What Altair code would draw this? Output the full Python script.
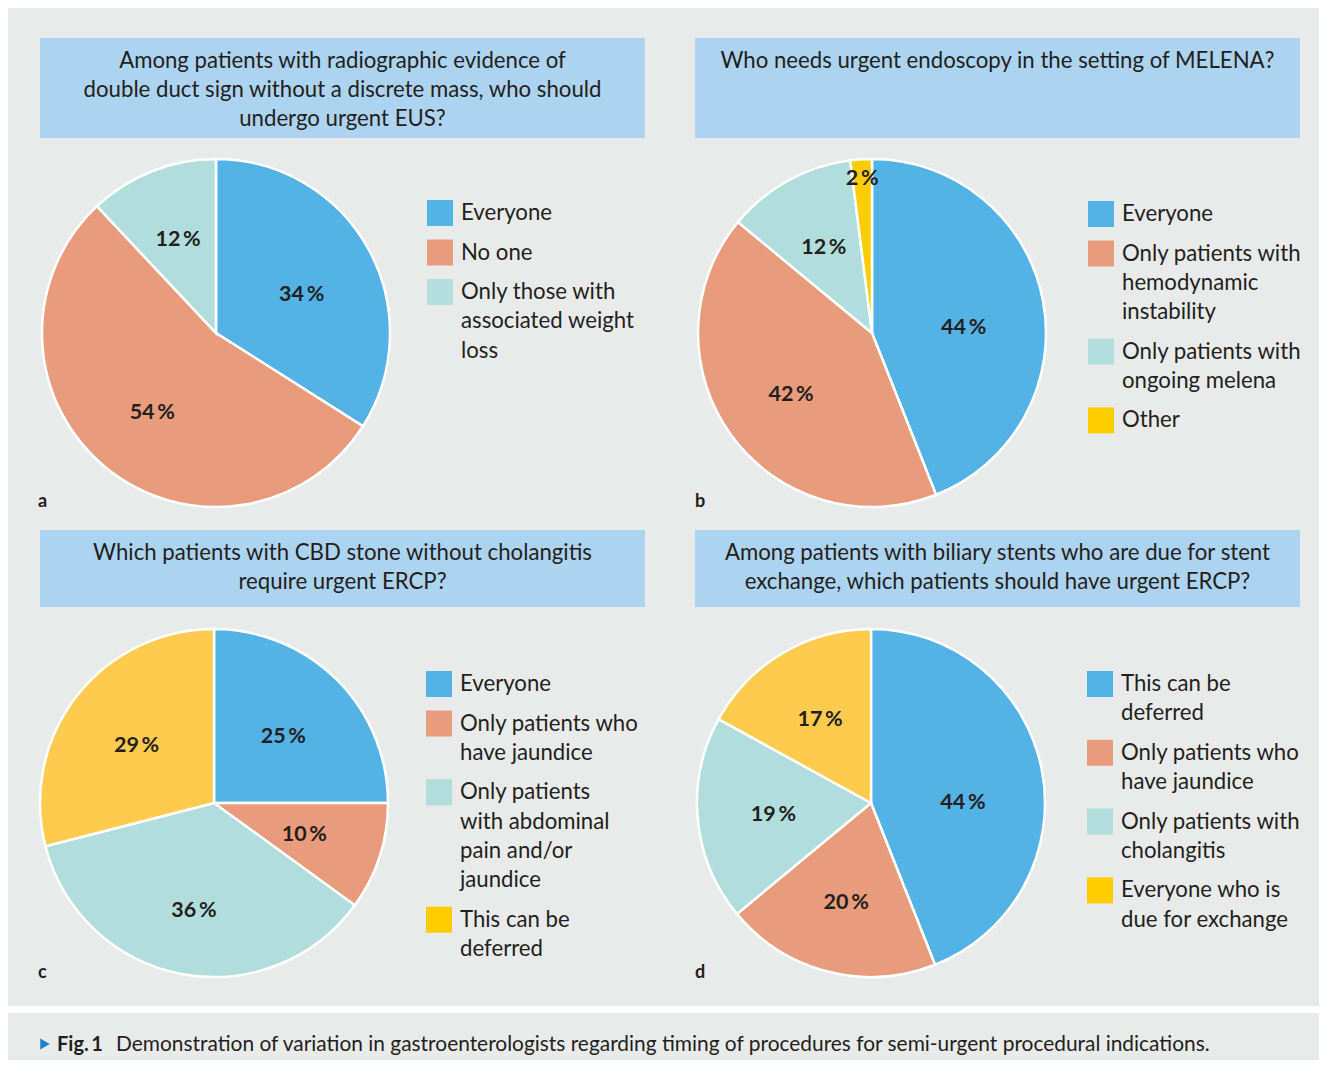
import math
import altair as alt
import pandas as pd

# ---------------- data ----------------
a_title = ["Among patients with radiographic evidence of",
           "double duct sign without a discrete mass, who should",
           "undergo urgent EUS?"]
a_cats = ["Everyone", "No one", "Only those with associated weight loss"]
a_vals = [34, 54, 12]
a_legend = [["Everyone"], ["No one"], ["Only those with", "associated weight", "loss"]]

b_title = ["Who needs urgent endoscopy in the setting of MELENA?"]
b_cats = ["Everyone", "Only patients with hemodynamic instability",
          "Only patients with ongoing melena", "Other"]
b_vals = [44, 42, 12, 2]
b_legend = [["Everyone"], ["Only patients with", "hemodynamic", "instability"],
            ["Only patients with", "ongoing melena"], ["Other"]]

c_title = ["Which patients with CBD stone without cholangitis",
           "require urgent ERCP?"]
c_cats = ["Everyone", "Only patients who have jaundice",
          "Only patients with abdominal pain and/or jaundice", "This can be deferred"]
c_vals = [25, 10, 36, 29]
c_legend = [["Everyone"], ["Only patients who", "have jaundice"],
            ["Only patients", "with abdominal", "pain and/or", "jaundice"],
            ["This can be", "deferred"]]

d_title = ["Among patients with biliary stents who are due for stent",
           "exchange, which patients should have urgent ERCP?"]
d_cats = ["This can be deferred", "Only patients who have jaundice",
          "Only patients with cholangitis", "Everyone who is due for exchange"]
d_vals = [44, 20, 19, 17]
d_legend = [["This can be", "deferred"], ["Only patients who", "have jaundice"],
            ["Only patients with", "cholangitis"], ["Everyone who is", "due for exchange"]]

caption_fig = "Fig.\u20091"
caption_text = ("Demonstration of variation in gastroenterologists regarding timing of "
                "procedures for semi-urgent procedural indications.")

# ---------------- styles / layout ----------------
FONT = "Lato"
BG = "#e9ebea"
BOX = "#acd4f0"
TXT = "#231f20"
BLUE = "#53b3e6"
ORANGE = "#e99c7b"
TEAL = "#b1dedd"
YELLOW = "#ffcc00"
YELLOW_SOFT = "#fecb4e"
R = 174
LH = 29.3
STEP = 39.5
FS = 22.2

dummy = alt.Data(values=[{}])
theta_scale = alt.Scale(domain=[0, 100], range=[0, 2 * math.pi])


def panel(title, cats, vals, legend, pie_cols, leg_cols, label_r, label_nudge, letter,
          box, center, leg_x, leg_y0, letter_pos):
    layers = []
    x1, y1, x2, y2 = box
    layers.append(alt.Chart(dummy).mark_rect(color=BOX).encode(
        x=alt.value(x1), x2=alt.value(x2), y=alt.value(y1), y2=alt.value(y2)))
    layers.append(alt.Chart(dummy).mark_text(
        font=FONT, fontSize=FS, color=TXT, align="center", baseline="alphabetic",
        lineBreak="\n", lineHeight=29).encode(
        x=alt.value((x1 + x2) / 2), y=alt.value(y1 + 30),
        text=alt.value("\n".join(title))))

    df = pd.DataFrame({
        "cat": cats, "val": vals, "idx": list(range(len(cats))),
        "fill": pie_cols, "lr": label_r, "nudge": label_nudge,
        "lab": [f"{v}\u2009%" for v in vals],
    })
    cx, cy = center
    base = alt.Chart(df).transform_window(
        cum="sum(val)", sort=[alt.SortField("idx")]
    ).transform_calculate(
        start="datum.cum - datum.val",
        mid="datum.cum - datum.val / 2 + datum.nudge",
    )
    layers.append(base.mark_arc(outerRadius=R, stroke="white", strokeWidth=2.5).encode(
        theta=alt.Theta("start:Q", scale=theta_scale, stack=None),
        theta2="cum:Q",
        color=alt.Color("fill:N", scale=None),
        x=alt.value(cx), y=alt.value(cy)))
    layers.append(base.mark_text(font=FONT, fontSize=21.5, fontWeight="bold", color=TXT,
                                 align="center", baseline="middle", dy=3).encode(
        theta=alt.Theta("mid:Q", scale=theta_scale, stack=None),
        radius=alt.Radius("lr:Q", scale=None),
        text="lab:N",
        x=alt.value(cx), y=alt.value(cy)))

    ys = []
    yy = leg_y0
    for lines in legend:
        ys.append(yy)
        yy += (len(lines) - 1) * LH + STEP
    ldf = pd.DataFrame({
        "txt": ["\n".join(l) for l in legend],
        "fill": leg_cols,
        "ly": ys,
        "tly": [v + 7 for v in ys],
    })
    layers.append(alt.Chart(ldf).mark_square(size=26 * 26, opacity=1, filled=True).encode(
        x=alt.value(leg_x + 13),
        y=alt.Y("ly:Q", scale=None, axis=None),
        color=alt.Color("fill:N", scale=None)))
    layers.append(alt.Chart(ldf).mark_text(
        font=FONT, fontSize=FS, color=TXT, align="left", baseline="alphabetic",
        lineBreak="\n", lineHeight=LH).encode(
        x=alt.value(leg_x + 34),
        y=alt.Y("tly:Q", scale=None, axis=None),
        text="txt:N"))

    layers.append(alt.Chart(dummy).mark_text(
        font=FONT, fontSize=18, fontWeight="bold", color=TXT, align="left",
        baseline="alphabetic").encode(
        x=alt.value(letter_pos[0]), y=alt.value(letter_pos[1]), text=alt.value(letter)))
    return layers


layers = []
layers += panel(a_title, a_cats, a_vals, a_legend,
                [BLUE, ORANGE, TEAL], [BLUE, ORANGE, TEAL],
                [95, 100, 103], [0.9, 0, 0], "a",
                (32, 30, 637, 130), (208, 325), 419, 205, (30, 499))
layers += panel(b_title, b_cats, b_vals, b_legend,
                [BLUE, ORANGE, TEAL, YELLOW], [BLUE, ORANGE, TEAL, YELLOW],
                [92, 100, 100, 157], [1.6, 0, 0, 0], "b",
                (687, 30, 1292, 130), (864, 325), 1080, 206, (687, 499))
layers += panel(c_title, c_cats, c_vals, c_legend,
                [BLUE, ORANGE, TEAL, YELLOW_SOFT], [BLUE, ORANGE, TEAL, YELLOW],
                [98, 95, 107, 98], [0, 0, 0, 0], "c",
                (32, 522, 637, 599), (206, 795), 418, 676, (30, 970))
layers += panel(d_title, d_cats, d_vals, d_legend,
                [BLUE, ORANGE, TEAL, YELLOW_SOFT], [BLUE, ORANGE, TEAL, YELLOW],
                [92, 100, 98, 100], [2.4, 0, 0, 0], "d",
                (687, 522, 1292, 599), (863, 795), 1079, 676, (687, 970))

# white separator band and caption
layers.append(alt.Chart(dummy).mark_rect(color="white").encode(
    x=alt.value(0), x2=alt.value(1311), y=alt.value(998), y2=alt.value(1005)))
layers.append(alt.Chart(dummy).mark_point(
    shape="triangle-right", filled=True, size=120, color="#1d80c3", opacity=1).encode(
    x=alt.value(37), y=alt.value(1036)))
layers.append(alt.Chart(dummy).mark_text(
    font=FONT, fontSize=20, fontWeight="bold", color=TXT, align="left",
    baseline="alphabetic").encode(
    x=alt.value(49), y=alt.value(1043), text=alt.value(caption_fig)))
layers.append(alt.Chart(dummy).mark_text(
    font=FONT, fontSize=20.9, color=TXT, align="left", baseline="alphabetic").encode(
    x=alt.value(108), y=alt.value(1043), text=alt.value(caption_text)))

chart = alt.layer(*layers).resolve_scale(theta="independent").properties(
    width=1311, height=1052, padding=0, background=BG
).configure_view(stroke=None)

chart.save("out.html", embed_options={"renderer": "svg", "actions": False})
